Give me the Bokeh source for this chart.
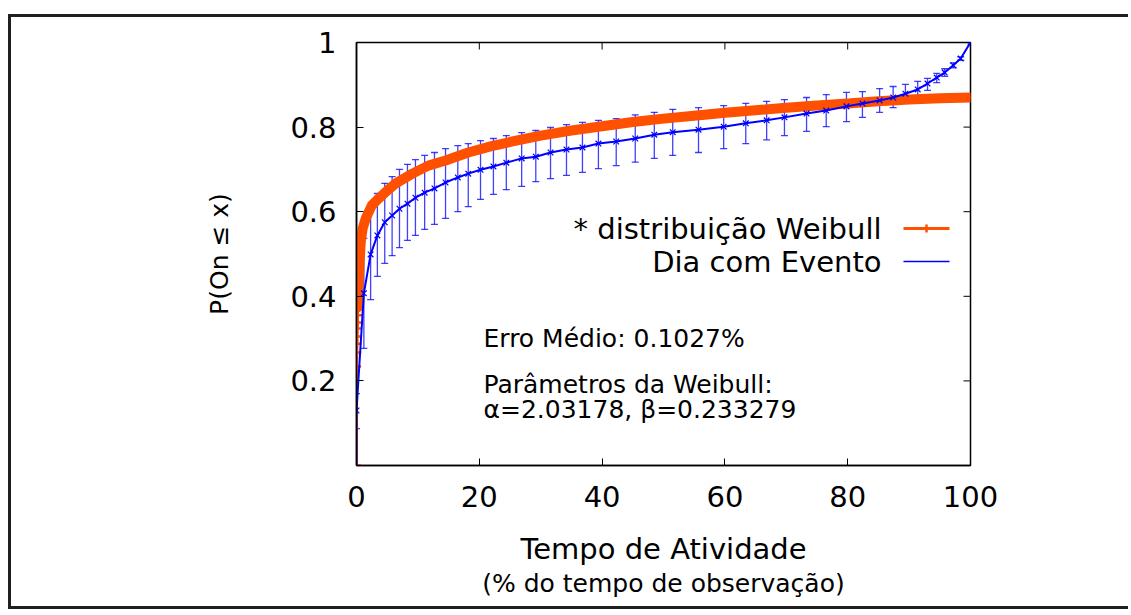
from bokeh.plotting import figure
from bokeh.models import (ColumnDataSource, Range1d, FixedTicker, Arrow,
                          CustomJSTickFormatter, Whisker, TeeHead, Label,
                          LinearAxis)
from bokeh.embed import file_html
from bokeh.resources import INLINE

FONT = "DejaVu Sans"
ORANGE = "#ff5000"
BLUE = "#0000ff"

# Fitted Weibull CDF (percent of observation time -> probability)
weib_x = [0, 0.02, 0.04, 0.06, 0.08, 0.1, 0.13, 0.16, 0.2, 0.3, 0.5, 0.7,
          1.0, 1.5, 2.5, 3.6, 5, 6.4, 9.1, 11.7, 14.5, 18.2, 22, 26, 30, 35,
          40, 45, 50, 55, 60, 65, 70, 75, 80, 85, 90, 95, 100]
weib_y = [0.0, 0.234, 0.267, 0.288, 0.305, 0.324, 0.338, 0.355, 0.374, 0.42,
          0.48, 0.53, 0.56, 0.584, 0.615, 0.631, 0.65, 0.667, 0.69, 0.709,
          0.721, 0.74, 0.755, 0.768, 0.78, 0.792, 0.802, 0.812, 0.82, 0.827,
          0.834, 0.84, 0.846, 0.851, 0.856, 0.861, 0.865, 0.868, 0.87]
# the first samples sit almost on the y axis and show up as separate points
n_sparse = 9

# Observed CDF for the event day, with error bounds
obs_x = [0, 0, 1.2, 2.3, 3.4, 4.6, 5.8, 7.0, 8.3, 9.6, 11.1, 12.7, 14.5, 16.5,
         18.2, 20.2, 22.3, 24.4, 26.9, 29.2, 31.6, 34.2, 36.8, 39.4, 42.3,
         45.4, 48.5, 51.5, 55.7, 59.8, 63.4, 66.8, 69.7, 73.3, 76.5, 79.8,
         82.4, 85.2, 87.4, 89.4, 91.4, 93.0, 94.5, 95.8, 97.2, 98.4, 100]
obs_y = [0.0, 0.13, 0.407, 0.499, 0.544, 0.575, 0.591, 0.607, 0.619, 0.633,
         0.645, 0.655, 0.669, 0.681, 0.69, 0.699, 0.707, 0.716, 0.726, 0.73,
         0.74, 0.747, 0.752, 0.761, 0.766, 0.773, 0.782, 0.788, 0.794, 0.801,
         0.809, 0.816, 0.823, 0.832, 0.839, 0.849, 0.856, 0.863, 0.87, 0.879,
         0.889, 0.903, 0.917, 0.929, 0.946, 0.962, 1.0]
obs_lo = [0.0, 0.087, 0.277, 0.392, 0.447, 0.478, 0.496, 0.515, 0.532, 0.544,
          0.558, 0.57, 0.584, 0.6, 0.612, 0.629, 0.641, 0.652, 0.66, 0.671,
          0.678, 0.686, 0.693, 0.702, 0.709, 0.717, 0.726, 0.733, 0.74, 0.749,
          0.761, 0.77, 0.78, 0.79, 0.801, 0.813, 0.823, 0.835, 0.846, 0.856,
          0.872, 0.887, 0.905, 0.92, 0.94, 0.958, 1.0]
obs_hi = [0.0, 0.17, 0.537, 0.605, 0.643, 0.667, 0.683, 0.7, 0.712, 0.723,
          0.733, 0.74, 0.749, 0.756, 0.761, 0.768, 0.773, 0.78, 0.787, 0.792,
          0.799, 0.806, 0.811, 0.816, 0.82, 0.829, 0.835, 0.842, 0.846, 0.851,
          0.856, 0.861, 0.865, 0.87, 0.877, 0.882, 0.884, 0.891, 0.896, 0.901,
          0.908, 0.915, 0.927, 0.938, 0.952, 0.966, 1.0]

x_ticks = [0, 20, 40, 60, 80, 100]
y_ticks = [0.2, 0.4, 0.6, 0.8, 1.0]

BIG = "29px"
SMALL = "25px"

W, H = 1120, 595
p = figure(width=W, height=H, x_range=Range1d(0, 100), y_range=Range1d(0, 1),
           output_backend="svg", toolbar_location=None,
           x_axis_label="Tempo de Atividade",
           y_axis_label="P(On \u2264 x)",
           min_border_left=345, min_border_right=161,
           min_border_top=25, min_border_bottom=147,
           margin=(14, 0, 0, 8))
p.styles = {"border-left": "3px solid #231f20",
            "border-top": "3px solid #231f20",
            "border-bottom": "3px solid #231f20"}
p.grid.visible = False
p.background_fill_color = "white"
p.outline_line_color = "black"
p.outline_line_width = 1.5

p.xaxis.ticker = FixedTicker(ticks=x_ticks)
p.yaxis.ticker = FixedTicker(ticks=y_ticks)
p.yaxis.formatter = CustomJSTickFormatter(
    code="return tick > 0.999 ? '1' : tick.toFixed(1);")

for ax in p.xaxis + p.yaxis:
    ax.major_tick_in = 7
    ax.major_tick_out = 0
    ax.minor_tick_line_color = None
    ax.major_tick_line_color = "black"
    ax.major_tick_line_width = 1
    ax.axis_line_color = "black"
    ax.axis_line_width = 1.5
    ax.major_label_text_font = FONT
    ax.major_label_text_font_size = BIG
    ax.major_label_text_color = "black"
    ax.axis_label_text_font = FONT
    ax.axis_label_text_font_style = "normal"
    ax.axis_label_text_color = "black"

p.xaxis.axis_label_text_font_size = BIG
p.yaxis.axis_label_text_font_size = SMALL
p.xaxis.major_label_standoff = 20
p.xaxis.axis_label_standoff = 22
p.yaxis.major_label_standoff = 20
p.yaxis.axis_label_standoff = 53

# second line of the x-axis title, set smaller, on a bare axis underneath
sub_axis = LinearAxis(ticker=FixedTicker(ticks=[]),
                      axis_label="(% do tempo de observação)",
                      axis_label_text_font=FONT,
                      axis_label_text_font_size=SMALL,
                      axis_label_text_font_style="normal",
                      axis_label_text_color="black",
                      axis_label_standoff=0,
                      axis_line_color=None, major_tick_line_color=None,
                      minor_tick_line_color=None,
                      major_tick_in=0, major_tick_out=0,
                      minor_tick_in=0, minor_tick_out=0,
                      major_label_standoff=0)
p.add_layout(sub_axis, "below")

# mirrored inward ticks on the top and right borders
p.ray(x=x_ticks, y=[1] * len(x_ticks), length=7, length_units="screen",
      angle=-90, angle_units="deg", color="black", line_width=1)
p.ray(x=[100] * len(y_ticks), y=y_ticks, length=7, length_units="screen",
      angle=180, angle_units="deg", color="black", line_width=1)

# Weibull fit: thin line through all samples, dense samples form a band
weib = ColumnDataSource(dict(x=weib_x, y=weib_y))
band = ColumnDataSource(dict(x=weib_x[n_sparse - 1:], y=weib_y[n_sparse - 1:]))
sparse = ColumnDataSource(dict(x=weib_x[:n_sparse], y=weib_y[:n_sparse]))
p.line("x", "y", source=weib, color=ORANGE, line_width=3)
p.line("x", "y", source=band, color=ORANGE, line_width=10,
       line_join="round", line_cap="round")
p.scatter("x", "y", source=sparse, marker="cross", size=9, line_width=2.5,
          color=ORANGE)

# observed curve with error bars
obs = ColumnDataSource(dict(x=obs_x, y=obs_y))
marks = ColumnDataSource(dict(x=obs_x[1:], y=obs_y[1:],
                              lo=obs_lo[1:], hi=obs_hi[1:]))
p.add_layout(Whisker(source=marks, base="x", lower="lo", upper="hi",
                     dimension="height", line_color=BLUE, line_width=1.3,
                     line_alpha=0.75,
                     upper_head=TeeHead(size=7, line_color=BLUE,
                                        line_width=1.3, line_alpha=0.75),
                     lower_head=TeeHead(size=7, line_color=BLUE,
                                        line_width=1.3, line_alpha=0.75)))
p.line("x", "y", source=obs, color=BLUE, line_width=2)
p.scatter("x", "y", source=marks, marker="x", size=8, line_width=1.2,
          color=BLUE)

# key: text on the left, sample lines on the right (frame pixel offsets)
key_texts = ["* distribuição Weibull", "Dia com Evento"]
key_colors = [ORANGE, BLUE]
key_widths = [3, 1.5]
key_rows = [237, 204]
for txt, col, lw, yr in zip(key_texts, key_colors, key_widths, key_rows):
    p.add_layout(Label(x=525, y=yr, x_units="screen", y_units="screen",
                       text=txt, text_align="right",
                       text_baseline="middle", text_font=FONT,
                       text_font_size=BIG, text_color="black"))
    p.add_layout(Arrow(start=None, end=None, x_start=547, y_start=yr,
                       x_end=593, y_end=yr, start_units="screen",
                       end_units="screen", line_color=col, line_width=lw))
p.add_layout(Arrow(start=None, end=None, x_start=570, y_start=key_rows[0] - 4,
                   x_end=570, y_end=key_rows[0] + 4, start_units="screen",
                   end_units="screen", line_color=ORANGE, line_width=2.5))

notes = ["Erro Médio: 0.1027%", "Parâmetros da Weibull:",
         "\u03b1=2.03178, \u03b2=0.233279"]
for txt, yc in zip(notes, [127, 81, 56]):
    p.add_layout(Label(x=127, y=yc, x_units="screen", y_units="screen",
                       text=txt, text_align="left",
                       text_baseline="middle", text_font=FONT,
                       text_font_size=SMALL, text_color="black"))

open("out.html", "w").write(file_html(p, INLINE))
